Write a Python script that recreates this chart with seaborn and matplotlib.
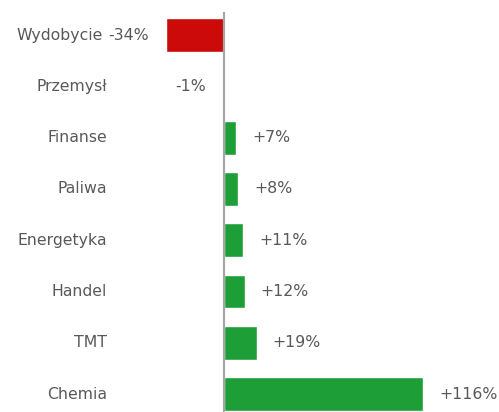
import matplotlib
matplotlib.use('Agg')
import matplotlib.pyplot as plt
import seaborn as sns
import pandas as pd

# data
sectors = ['Wydobycie', 'Przemysł', 'Finanse', 'Paliwa', 'Energetyka', 'Handel', 'TMT', 'Chemia']
changes = [-34, -1, 7, 8, 11, 12, 19, 116]
labels = ['-34%', '-1%', '+7%', '+8%', '+11%', '+12%', '+19%', '+116%']

df = pd.DataFrame({'sector': sectors, 'change': changes})
colors = ['#CC0A0A' if v < 0 else '#1E9E37' for v in changes]

sns.set_style('white')
plt.rcParams['font.family'] = ['DejaVu Sans']
text_color = '#595959'
fs = 11.3

fig = plt.figure(figsize=(4.99, 4.12), dpi=100)
ax = fig.add_axes([0, 0, 1, 400 / 412])

sns.barplot(data=df, x='change', y='sector', hue='sector', palette=colors,
            legend=False, width=0.66, saturation=1, ax=ax, orient='h')

ax.set_xlim(-130.5, 160.3)
ax.set_ylim(7.35, -0.45)
ax.axvline(0, color='#a6a6a6', linewidth=1.6, zorder=5)

for sp in ax.spines.values():
    sp.set_visible(False)
ax.set_xticks([])
ax.set_yticks([])
ax.set_xlabel('')
ax.set_ylabel('')

# category names and value labels
for i, (name, v, lab) in enumerate(zip(sectors, changes, labels)):
    x_name = 0.206 if i == 0 else 0.214
    ax.text(x_name, i, name, transform=ax.get_yaxis_transform(), ha='right', va='center',
            fontsize=fs, color=text_color)
    if v < 0:
        ax.text(v - 9.5, i, lab, ha='right', va='center', fontsize=fs, color=text_color)
    else:
        ax.text(v + 9.5, i, lab, ha='left', va='center', fontsize=fs, color=text_color)

fig.savefig('out.png', dpi=100)
